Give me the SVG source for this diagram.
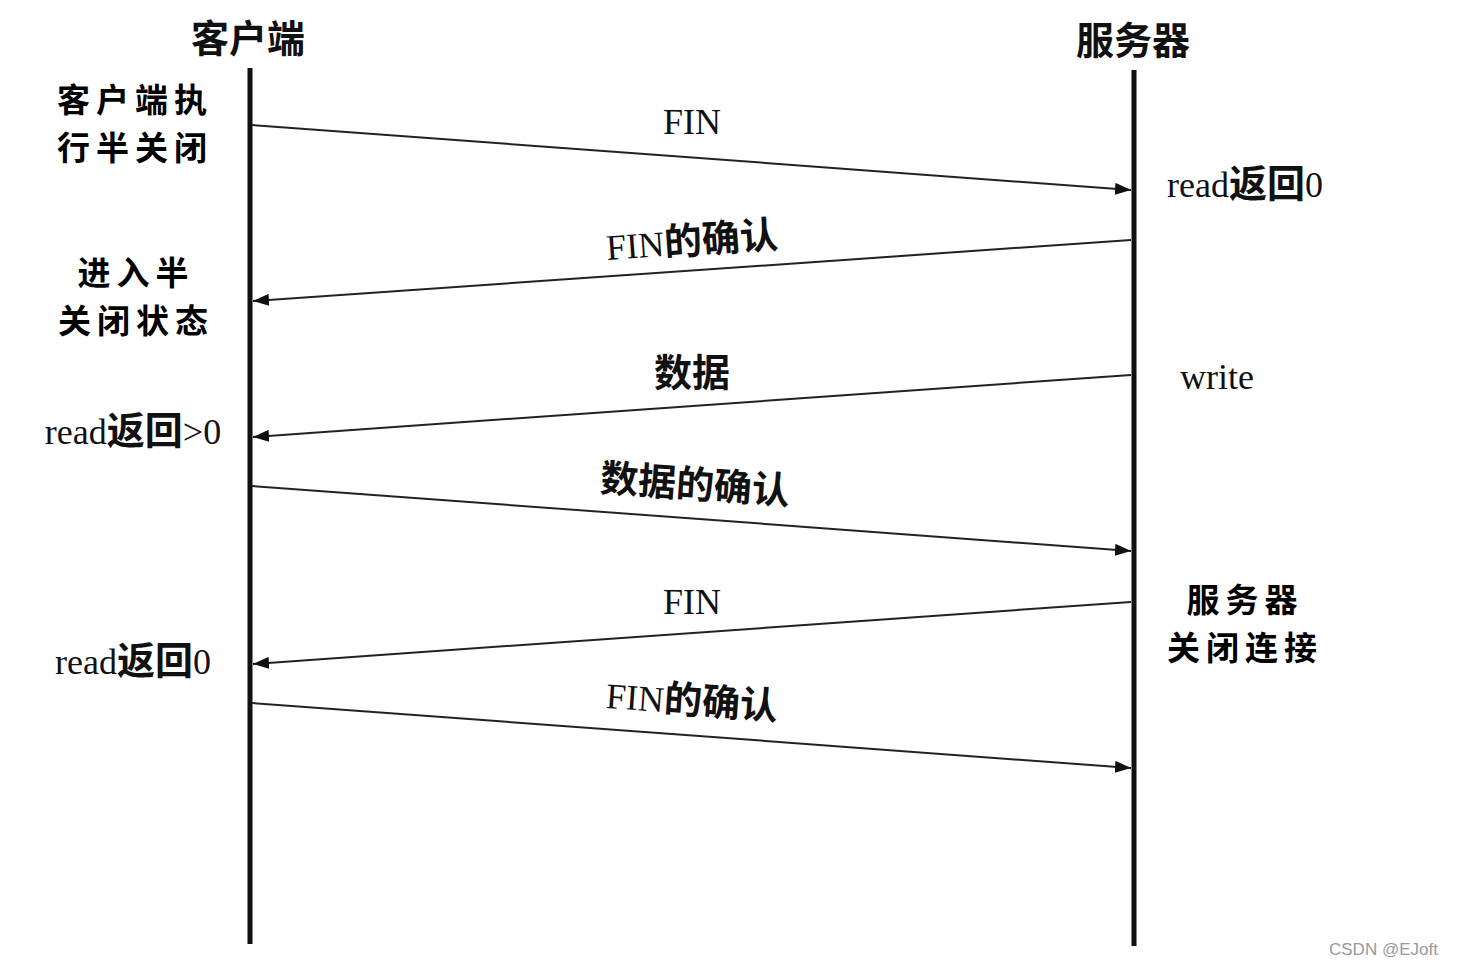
<svg xmlns="http://www.w3.org/2000/svg" width="1458" height="966" viewBox="0 0 1458 966">
<style>
.t{font-family:"Liberation Serif","Noto Sans CJK SC",serif;font-size:36px;fill:#111}
.c{font-family:"Noto Sans CJK SC","Liberation Serif",sans-serif;font-size:38px;font-weight:bold}
.n{font-family:"Noto Sans CJK SC","Liberation Serif",sans-serif;font-size:33px;font-weight:bold;letter-spacing:6px}
.m{text-anchor:middle}
.life{stroke:#111;stroke-width:5;fill:none}
.msg{stroke:#222;stroke-width:2;fill:none;marker-end:url(#ah)}
.wm{font-family:"Liberation Sans",Arial,sans-serif;font-size:17px;fill:#999}
</style>
<defs>
<marker id="ah" viewBox="0 0 16 12" refX="16" refY="6" markerWidth="16" markerHeight="12" markerUnits="userSpaceOnUse" orient="auto">
<path d="M0,0 L16,6 L0,12 Z" fill="#111"/>
</marker>
</defs>
<rect width="1458" height="966" fill="#fff"/>
<g id="client">
<line class="life" x1="250" y1="68" x2="250" y2="944"/>
<text class="t c m" x="248" y="52">客户端</text>
</g>
<g id="server">
<line class="life" x1="1134" y1="70" x2="1134" y2="946"/>
<text class="t c m" x="1133" y="54">服务器</text>
</g>
<g id="connectors">
<line class="msg" x1="252" y1="125" x2="1131" y2="190"/>
<line class="msg" x1="1131" y1="240" x2="253" y2="301"/>
<line class="msg" x1="1131" y1="375" x2="253" y2="437"/>
<line class="msg" x1="252" y1="486" x2="1131" y2="551"/>
<line class="msg" x1="1131" y1="602" x2="253" y2="664"/>
<line class="msg" x1="252" y1="703" x2="1131" y2="768"/>
</g>
<g id="labels">
<text class="t m" x="692" y="134">FIN</text>
<text class="t m" x="692" y="254" transform="rotate(-4 692 242)">FIN<tspan class="c">的确认</tspan></text>
<text class="t c m" x="692" y="386">数据</text>
<text class="t c m" x="695" y="498" transform="rotate(4 695 486)">数据的确认</text>
<text class="t m" x="692" y="614">FIN</text>
<text class="t m" x="692" y="714" transform="rotate(4 692 702)">FIN<tspan class="c">的确认</tspan></text>
</g>
<g id="notes-left">
<text class="n m" x="135" y="112">客户端执</text>
<text class="n m" x="135" y="160">行半关闭</text>
<text class="n m" x="136" y="285">进入半</text>
<text class="n m" x="136" y="333">关闭状态</text>
<text class="t m" x="133" y="444">read<tspan class="c">返回</tspan>&gt;0</text>
<text class="t m" x="133" y="674">read<tspan class="c">返回</tspan>0</text>
</g>
<g id="notes-right">
<text class="t" x="1167" y="197">read<tspan class="c">返回</tspan>0</text>
<text class="t" x="1180" y="389">write</text>
<text class="n m" x="1245" y="612">服务器</text>
<text class="n m" x="1245" y="660">关闭连接</text>
</g>
<text class="wm" x="1329" y="955">CSDN @EJoft</text>
</svg>
